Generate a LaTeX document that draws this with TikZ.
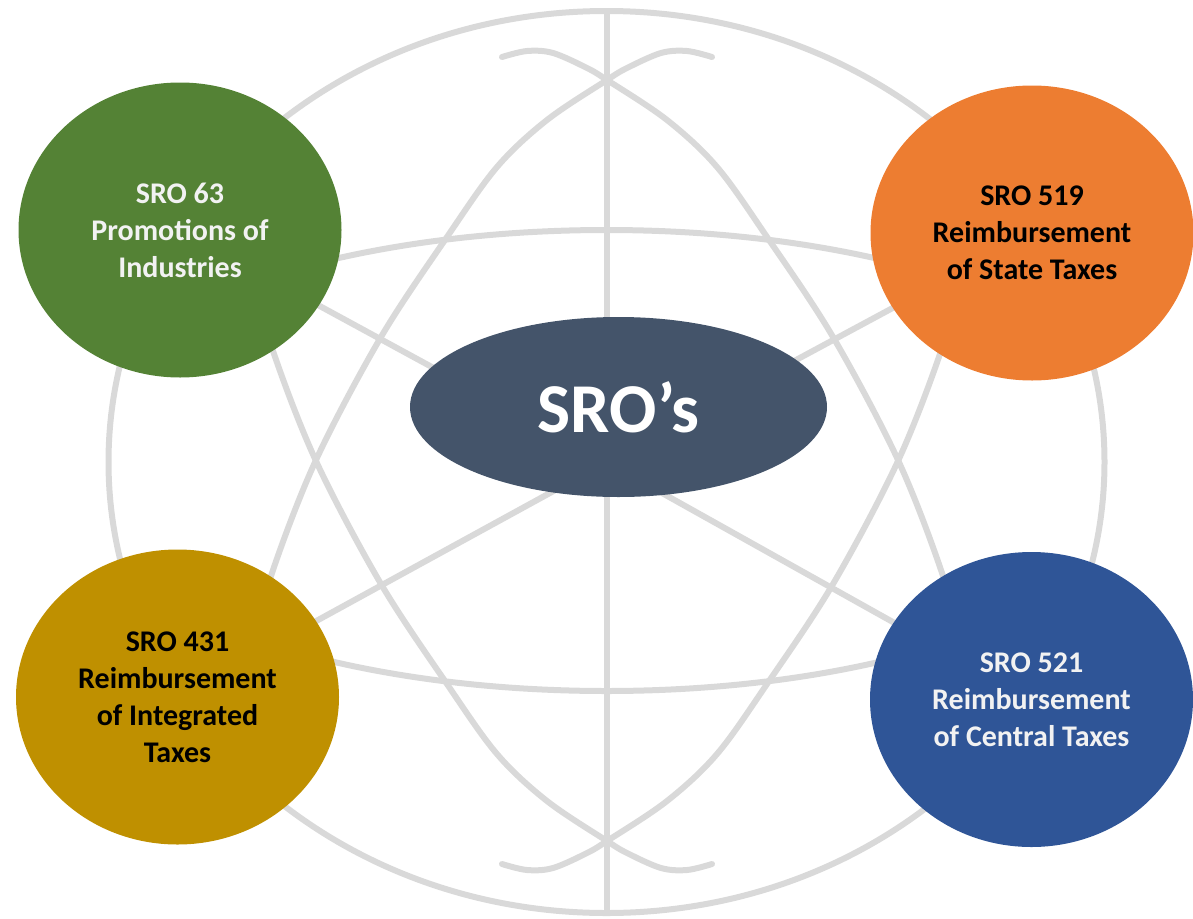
\documentclass[tikz,border=0pt]{standalone}
\usepackage{fontspec}
\setmainfont{Carlito}
\usetikzlibrary{shapes.geometric}
\definecolor{gridgray}{HTML}{D9D9D9}
\definecolor{cgreen}{HTML}{548235}
\definecolor{corange}{HTML}{ED7D31}
\definecolor{cyellow}{HTML}{BF9000}
\definecolor{cblue}{HTML}{2F5597}
\definecolor{cslate}{HTML}{44546A}
\definecolor{lighttext}{HTML}{F2F2F2}
\tikzset{
  globe/.style={draw=gridgray, line width=6pt, line cap=round},
  sro/.style={ellipse, inner sep=0pt, minimum width=323pt, minimum height=295pt,
    align=center, font=\fontsize{30pt}{37pt}\selectfont\bfseries},
  hub/.style={ellipse, inner sep=0pt, minimum width=417pt, minimum height=180pt,
    fill=cslate, text=white, font=\fontsize{70pt}{76pt}\selectfont\bfseries}
}
\begin{document}
\begin{tikzpicture}[x=1pt,y=-1pt]
\useasboundingbox (0,0) rectangle (1193,918);
% named anchor points
\coordinate (o) at (606.5,462);
\coordinate (p1) at (180,230);
\coordinate (p2) at (1032,233);
\coordinate (p3) at (177.5,697);
\coordinate (p4) at (1031.5,699.5);
\coordinate (top) at (606.5,11);
\coordinate (bot) at (606.5,913);
% globe outline
\draw[globe] (o) ellipse [x radius=498pt, y radius=451pt];
% latitude ring clipped to globe
\begin{scope}
  \clip (o) ellipse [x radius=498pt, y radius=451pt];
  \draw[globe] (606.5,460.5) ellipse [x radius=560pt, y radius=230.5pt];
\end{scope}
% vertical axis
\draw[globe] (top) -- (bot);
% meridian arcs
\draw[globe] plot[smooth, tension=0.55] coordinates {(502,57) (527,51) (553,53) (587,68) (607,80) (667,120) (717,167) (767,237) (833,337) (898,460) (942,573) (962,650)};
\draw[globe] plot[smooth, tension=0.55] coordinates {(712,57) (687,51) (661,53) (627,68) (607,80) (547,120) (497,167) (447,237) (381,337) (316,460) (272,573) (252,650)};
\draw[globe] plot[smooth, tension=0.55] coordinates {(502,864) (527,870) (553,868) (587,853) (607,841) (667,801) (717,754) (767,684) (833,584) (898,461) (942,348) (962,271)};
\draw[globe] plot[smooth, tension=0.55] coordinates {(712,864) (687,870) (661,868) (627,853) (607,841) (547,801) (497,754) (447,684) (381,584) (316,461) (272,348) (252,271)};
% spokes
\draw[globe] (o) -- (p1);
\draw[globe] (o) -- (p2);
\draw[globe] (o) -- (p3);
\draw[globe] (o) -- (p4);
% nodes
\node[sro, fill=cgreen, text=lighttext] (n1) at (p1) {SRO 63\\Promotions of\\Industries};
\node[sro, fill=corange, text=black] (n2) at (p2) {SRO 519\\Reimbursement\\of State Taxes};
\node[sro, fill=cyellow, text=black] (n3) at (p3) {SRO 431\\Reimbursement\\of Integrated\\Taxes};
\node[sro, fill=cblue, text=lighttext] (n4) at (p4) {SRO 521\\Reimbursement\\of Central Taxes};
\node[hub] (hub) at (618.5,407) {SRO’s};
\end{tikzpicture}
\end{document}
